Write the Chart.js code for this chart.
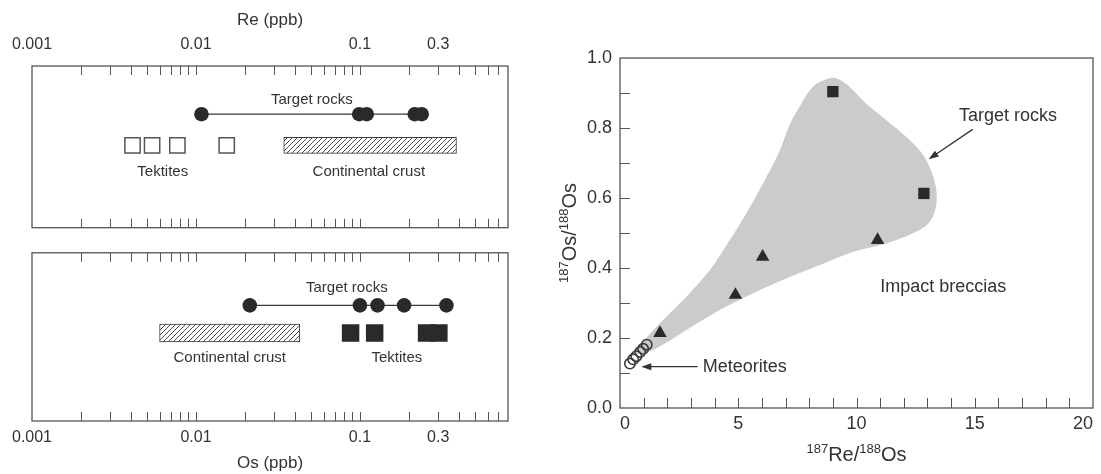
<!DOCTYPE html>
<html>
<head>
<meta charset="utf-8">
<title>Re-Os in impact rocks</title>
<script src="https://cdn.jsdelivr.net/npm/chart.js@4.4.1/dist/chart.umd.min.js"></script>
<style>
  html, body { margin: 0; padding: 0; background: #fff; }
  body { position: relative; width: 1101px; height: 474px; overflow: hidden; }
  canvas { position: absolute; }
</style>
</head>
<body>
<canvas id="reChart" width="540" height="240" style="left:0;top:0"></canvas>
<canvas id="osChart" width="540" height="234" style="left:0;top:240px"></canvas>
<canvas id="ratioChart" width="561" height="474" style="left:540px;top:0"></canvas>
<script>
// concentration strips (ppb)
const concTicks = ['0.001', '0.01', '0.1', '0.3'];
const reTarget = [0.0108, 0.099, 0.110, 0.216, 0.238];
const reTektites = [0.0041, 0.0054, 0.0077, 0.0154];
const reCrust = [0.0343, 0.388];
const osTarget = [0.0213, 0.100, 0.128, 0.186, 0.337];
const osTektites = [0.0877, 0.123, 0.255, 0.303];
const osCrust = [0.0060, 0.0430];

// 187Os/188Os vs 187Re/188Os
const ratioXTicks = ['0', '5', '10', '15', '20'];
const ratioYTicks = ['0.0', '0.2', '0.4', '0.6', '0.8', '1.0'];
const targetRe = [9.0, 12.85];
const targetOs = [0.904, 0.613];
const brecciaRe = [1.69, 4.88, 6.03, 10.89];
const brecciaOs = [0.214, 0.323, 0.432, 0.480];
const meteoriteRe = [0.42, 0.56, 0.69, 0.85, 0.98, 1.13];
const meteoriteOs = [0.127, 0.139, 0.148, 0.160, 0.169, 0.181];
// outline of the grey target-rock field
const fieldRe = [0.55, 0.84, 1.69, 2.81, 3.80, 4.64, 5.34, 6.05, 6.75, 7.17, 7.59, 8.16, 8.72, 9.14, 9.70, 10.4,
  11.25, 12.1, 12.66, 13.05, 13.33, 13.38, 13.1, 12.38, 11.25, 9.85, 8.44, 7.03, 5.63, 4.22, 2.81, 1.41, 0.55];
const fieldOs = [0.150, 0.178, 0.242, 0.318, 0.394, 0.480, 0.556, 0.642, 0.735, 0.809, 0.861, 0.918, 0.939, 0.942, 0.918, 0.870,
  0.823, 0.775, 0.737, 0.695, 0.640, 0.585, 0.532, 0.499, 0.470, 0.446, 0.408, 0.370, 0.328, 0.280, 0.223, 0.166, 0.150];

const FONT = '"Liberation Sans", Arial, Helvetica, sans-serif';
const INK = '#2a2a2a';
const TEXT = '#333';
const LINE = '#555';

Chart.defaults.font.family = FONT;
Chart.defaults.color = TEXT;
Chart.defaults.animation = false;
Chart.defaults.plugins.legend.display = false;
Chart.defaults.plugins.tooltip.enabled = false;

const pts = (xs, ys) => xs.map((x, i) => ({x, y: ys[i]}));
const pickLabel = (list, v) => list.find(t => Math.abs(Number(t) - v) <= Math.abs(v) * 1e-6 + 1e-9) ?? '';
const wholeMantissa = v => {
  const m = v / Math.pow(10, Math.floor(Math.log10(v) + 1e-9));
  return Math.abs(m - Math.round(m)) < 1e-6;
};

function hatchPattern() {
  const c = document.createElement('canvas');
  c.width = c.height = 5;
  const g = c.getContext('2d');
  g.fillStyle = '#fff';
  g.fillRect(0, 0, 5, 5);
  g.strokeStyle = '#3a3a3a';
  g.lineWidth = 0.9;
  g.beginPath();
  g.moveTo(0, 5); g.lineTo(5, 0);
  g.moveTo(-1, 1); g.lineTo(1, -1);
  g.moveTo(4, 6); g.lineTo(6, 4);
  g.stroke();
  return g.createPattern(c, 'repeat');
}

// box round the plot + inward tick marks
const framePlugin = {
  id: 'frame',
  afterDatasetsDraw(chart, args, opts) {
    const {ctx, chartArea: a} = chart;
    ctx.save();
    ctx.strokeStyle = LINE;
    ctx.lineWidth = 1;
    ctx.beginPath();
    opts.marks.forEach(m => {
      const s = chart.scales[m.scale];
      s.ticks.forEach(t => {
        const p = Math.round(s.getPixelForValue(t.value)) + 0.5;
        if (s.isHorizontal()) {
          if (p < a.left + 2 || p > a.right - 2) return;
          m.edges.forEach(e => {
            const y0 = e === 'top' ? a.top : a.bottom;
            ctx.moveTo(p, y0);
            ctx.lineTo(p, e === 'top' ? y0 + opts.len : y0 - opts.len);
          });
        } else {
          if (p < a.top + 2 || p > a.bottom - 2) return;
          ctx.moveTo(a.left, p);
          ctx.lineTo(a.left + opts.len, p);
        }
      });
    });
    ctx.stroke();
    ctx.lineWidth = 1.3;
    ctx.strokeRect(a.left, a.top, a.width, a.height);
    ctx.restore();
  }
};

// text labels and arrows placed in data units
const notesPlugin = {
  id: 'notes',
  afterDatasetsDraw(chart, args, opts) {
    const {ctx, scales: {x, y}} = chart;
    ctx.save();
    ctx.fillStyle = TEXT;
    ctx.strokeStyle = TEXT;
    ctx.textBaseline = 'middle';
    ctx.font = opts.size + 'px ' + FONT;
    (opts.labels || []).forEach(n => {
      ctx.textAlign = n.align || 'center';
      ctx.fillText(n.text, x.getPixelForValue(n.x), y.getPixelForValue(n.y));
    });
    (opts.arrows || []).forEach(ar => {
      const x0 = x.getPixelForValue(ar.from[0]), y0 = y.getPixelForValue(ar.from[1]);
      const x1 = x.getPixelForValue(ar.to[0]), y1 = y.getPixelForValue(ar.to[1]);
      const ang = Math.atan2(y1 - y0, x1 - x0), hl = 10, hw = 3.5;
      const c = Math.cos(ang), s = Math.sin(ang);
      ctx.lineWidth = 1.3;
      ctx.beginPath();
      ctx.moveTo(x0, y0);
      ctx.lineTo(x1 - c * hl * 0.8, y1 - s * hl * 0.8);
      ctx.stroke();
      ctx.beginPath();
      ctx.moveTo(x1, y1);
      ctx.lineTo(x1 - hl * c + hw * s, y1 - hl * s - hw * c);
      ctx.lineTo(x1 - hl * c - hw * s, y1 - hl * s + hw * c);
      ctx.closePath();
      ctx.fill();
    });
    ctx.restore();
  }
};

// axis titles with superscript mass numbers
const isoTitlePlugin = {
  id: 'isoTitles',
  afterDraw(chart) {
    const {ctx, chartArea: a} = chart;
    const big = '20px ' + FONT, small = '13px ' + FONT;
    const put = (parts, cx, cy) => {
      let w = 0;
      parts.forEach(p => { ctx.font = p[1] ? small : big; w += ctx.measureText(p[0]).width; });
      let xx = cx - w / 2;
      parts.forEach(p => {
        ctx.font = p[1] ? small : big;
        ctx.fillText(p[0], xx, cy - (p[1] ? 8 : 0));
        xx += ctx.measureText(p[0]).width;
      });
    };
    ctx.save();
    ctx.fillStyle = TEXT;
    ctx.textAlign = 'left';
    ctx.textBaseline = 'alphabetic';
    put([['187', 1], ['Re/', 0], ['188', 1], ['Os', 0]], (a.left + a.right) / 2, 461);
    ctx.translate(36, (a.top + a.bottom) / 2);
    ctx.rotate(-Math.PI / 2);
    put([['187', 1], ['Os/', 0], ['188', 1], ['Os', 0]], 0, 0);
    ctx.restore();
  }
};

function stripChart(canvasId, c) {
  return new Chart(document.getElementById(canvasId), {
    type: 'scatter',
    data: {
      datasets: [
        {
          label: 'Target rocks',
          data: c.target.map(v => ({x: v, y: c.rows.target})),
          showLine: true,
          borderColor: '#3a3a3a',
          borderWidth: 1.3,
          pointRadius: 7.3,
          pointBackgroundColor: INK,
          pointBorderWidth: 0
        },
        {
          label: 'Tektites',
          data: c.tektites.map(v => ({x: v, y: c.rows.samples})),
          pointStyle: 'rect',
          pointRadius: c.tektiteSize,
          pointBackgroundColor: c.tektiteFill,
          pointBorderColor: c.tektiteEdge,
          pointBorderWidth: 1.5
        },
        {
          type: 'bar',
          label: 'Continental crust',
          indexAxis: 'y',
          data: [{x: c.crust, y: c.rows.samples}],
          barThickness: c.crustHeight,
          backgroundColor: hatchPattern(),
          borderColor: '#3a3a3a',
          borderWidth: 1,
          borderSkipped: false
        }
      ]
    },
    options: {
      responsive: false,
      layout: {padding: {left: 32, right: 32, top: c.padTop, bottom: c.padBottom}},
      scales: {
        x: {
          type: 'logarithmic',
          position: c.axisSide,
          min: 0.001,
          max: 0.8,
          grid: {display: false, drawTicks: false},
          border: {display: false},
          afterBuildTicks: s => { s.ticks = s.ticks.filter(t => wholeMantissa(t.value)); },
          ticks: {
            autoSkip: false, maxRotation: 0, padding: c.tickPad,
            font: {size: 16}, color: TEXT,
            callback: v => pickLabel(concTicks, v)
          },
          title: {display: true, text: c.title, font: {size: 17}, color: TEXT, padding: {top: c.titlePad, bottom: 0}},
          afterFit: s => { s.height = c.axisHeight; }
        },
        y: {type: 'linear', display: false, min: 0, max: 1, reverse: true, offset: false}
      },
      plugins: {
        frame: {len: 9, marks: [{scale: 'x', edges: ['top', 'bottom']}]},
        notes: {size: 15, labels: c.notes}
      }
    },
    plugins: [framePlugin, notesPlugin]
  });
}

stripChart('reChart', {
  title: 'Re (ppb)', axisSide: 'top', axisHeight: 66, padTop: 0, padBottom: 3, tickPad: 12, titlePad: 10,
  target: reTarget, tektites: reTektites, crust: reCrust,
  rows: {target: 0.298, samples: 0.491},
  tektiteSize: 10.8, tektiteFill: '#fff', tektiteEdge: '#555', crustHeight: 16,
  notes: [
    {text: 'Target rocks', x: 0.0509, y: 0.211},
    {text: 'Tektites', x: 0.00627, y: 0.655},
    {text: 'Continental crust', x: 0.1133, y: 0.655}
  ]
});

stripChart('osChart', {
  title: 'Os (ppb)', axisSide: 'bottom', axisHeight: 53, padTop: 5, padBottom: 0, tickPad: 7, titlePad: 0,
  target: osTarget, tektites: osTektites, crust: osCrust,
  rows: {target: 0.3125, samples: 0.477},
  tektiteSize: 11.3, tektiteFill: INK, tektiteEdge: INK, crustHeight: 18,
  notes: [
    {text: 'Target rocks', x: 0.0832, y: 0.21},
    {text: 'Continental crust', x: 0.01607, y: 0.625},
    {text: 'Tektites', x: 0.168, y: 0.625}
  ]
});

new Chart(document.getElementById('ratioChart'), {
  type: 'scatter',
  data: {
    datasets: [
      {
        label: 'Target rocks',
        data: pts(targetRe, targetOs),
        pointStyle: 'rect',
        pointRadius: 8,
        pointBackgroundColor: INK,
        pointBorderWidth: 0
      },
      {
        label: 'Impact breccias',
        data: pts(brecciaRe, brecciaOs),
        pointStyle: 'triangle',
        pointRadius: 7.8,
        pointBackgroundColor: INK,
        pointBorderWidth: 0
      },
      {
        label: 'Meteorites',
        data: pts(meteoriteRe, meteoriteOs),
        pointStyle: 'circle',
        pointRadius: 5.2,
        pointBackgroundColor: 'rgba(0,0,0,0)',
        pointBorderColor: '#3a3a3a',
        pointBorderWidth: 1.6
      },
      {
        type: 'line',
        label: 'Target rock field',
        data: pts(fieldRe, fieldOs),
        fill: 'shape',
        backgroundColor: '#cbcbcb',
        borderColor: 'rgba(0,0,0,0)',
        pointRadius: 0,
        tension: 0.35,
        order: 10
      }
    ]
  },
  options: {
    responsive: false,
    layout: {padding: {left: 0, top: 58, right: 7, bottom: 0}},
    scales: {
      x: {
        type: 'linear', min: 0, max: 20,
        grid: {display: false, drawTicks: false},
        border: {display: false},
        ticks: {
          stepSize: 1, autoSkip: false, maxRotation: 0, align: 'inner', padding: 5,
          font: {size: 18}, color: TEXT,
          callback: v => pickLabel(ratioXTicks, v)
        },
        afterFit: s => { s.height = 66; }
      },
      y: {
        type: 'linear', min: 0, max: 1,
        grid: {display: false, drawTicks: false},
        border: {display: false},
        ticks: {
          stepSize: 0.1, autoSkip: false, padding: 8,
          font: {size: 18}, color: TEXT,
          callback: v => pickLabel(ratioYTicks, v)
        },
        afterFit: s => { s.width = 80; }
      }
    },
    plugins: {
      frame: {len: 10, marks: [{scale: 'x', edges: ['bottom']}, {scale: 'y', edges: ['left']}]},
      notes: {
        size: 18,
        labels: [
          {text: 'Target rocks', x: 16.41, y: 0.834},
          {text: 'Impact breccias', x: 13.67, y: 0.347},
          {text: 'Meteorites', x: 3.50, y: 0.118, align: 'left'}
        ],
        arrows: [
          {from: [14.91, 0.796], to: [13.05, 0.711]},
          {from: [3.28, 0.118], to: [0.90, 0.118]}
        ]
      }
    }
  },
  plugins: [framePlugin, notesPlugin, isoTitlePlugin]
});
</script>
</body>
</html>
